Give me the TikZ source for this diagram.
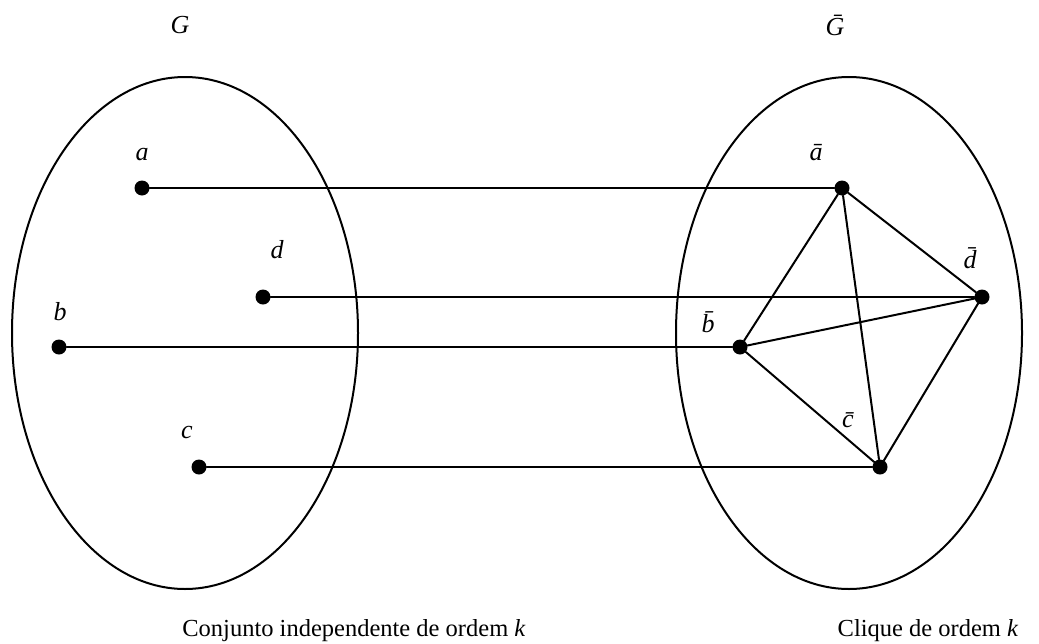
\documentclass[tikz,border=0pt]{standalone}
\usepackage{fontspec}
\setmainfont{Liberation Serif}
\usepackage{tikz}

\begin{document}
\begin{tikzpicture}[line cap=round,line join=round,x=1pt,y=-1pt,
  vert/.style={circle,fill=black,inner sep=0pt,minimum size=15pt},
  lbl/.style={inner sep=0pt,font=\fontsize{26}{30}\selectfont\itshape},
  capt/.style={inner sep=0pt,anchor=base,font=\fontsize{24.5}{28}\selectfont}]
\useasboundingbox (0,0) rectangle (1039,643);
\draw [line width=2pt] (185,333) ellipse (173 and 256);
\draw [line width=2pt] (849,333) ellipse (173 and 256);
% vertices of G
\node [vert] (a) at (142,188) {};
\node [vert] (d) at (263,297) {};
\node [vert] (b) at (59,347) {};
\node [vert] (c) at (199,467) {};
% vertices of the complement
\node [vert] (ab) at (842,188) {};
\node [vert] (db) at (982,297) {};
\node [vert] (bb) at (740,347) {};
\node [vert] (cb) at (880,467) {};
\draw [line width=2pt] (a) -- (ab);
\draw [line width=2pt] (d) -- (db);
\draw [line width=2pt] (b) -- (bb);
\draw [line width=2pt] (c) -- (cb);
\draw [line width=2pt] (ab) -- (db) -- (cb) -- (bb) -- (ab) -- (cb);
\draw [line width=2pt] (bb) -- (db);
\node [lbl] (labG) at (180,25) {G};
\node [lbl] (labGb) at (835,25) {\=G};
\node [lbl] (laba) at (142,155) {a};
\node [lbl] (labd) at (277,250) {d};
\node [lbl] (labb) at (60,312) {b};
\node [lbl] (labc) at (187,432) {c};
\node [lbl] (labab) at (816,153) {\=a};
\node [lbl] (labdb) at (970,258) {\=d};
\node [lbl] (labbb) at (708,322) {\=b};
\node [lbl] (labcb) at (848,420) {\=c};
\node [capt] (capind) at (354,636) {Conjunto independente de ordem \textit{k}};
\node [capt] (capcl) at (928,636) {Clique de ordem \textit{k}};
\end{tikzpicture}
\end{document}
